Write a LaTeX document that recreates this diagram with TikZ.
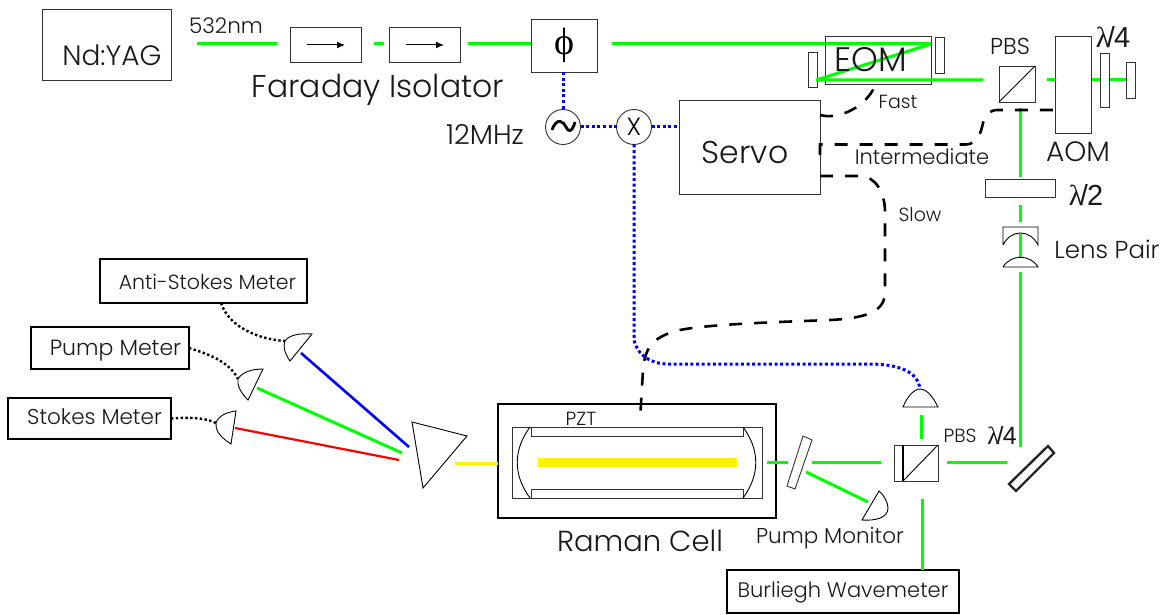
\documentclass[tikz,border=0pt]{standalone}
\usepackage{fontspec}
\setmainfont{Poppins}[UprightFont=* Light]
\newfontfamily\symf{Liberation Serif}
\newfontfamily\numf{Liberation Sans}
\usetikzlibrary{calc,arrows.meta}
\newcommand\fs[1]{\fontsize{#1}{#1}\selectfont}
\newcommand\lamfrac[1]{{\symf λ}\kern-0.11em{\numf /\kern-0.03em#1}}
\tikzset{
  x=1pt,y=-1pt,
  thin box/.style={draw=black!80,line width=0.9pt,inner sep=0pt,outer sep=0pt},
  thick box/.style={draw=black,line width=2.6pt,inner sep=0pt,outer sep=0pt},
  txt/.style={inner sep=0pt,outer sep=0pt,text=black!90},
  gbeam/.style={draw={rgb,255:red,0;green,255;blue,0},line width=3pt,line join=bevel},
  ybeam/.style={draw=yellow,line width=3pt},
  bbeam/.style={draw=blue,line width=2.6pt},
  rbeam/.style={draw=red,line width=2.2pt},
  bluedot/.style={draw=blue,line width=3pt,dash pattern=on 3pt off 2.6pt},
  blackdot/.style={draw=black,line width=2.4pt,dash pattern=on 2.4pt off 2.4pt},
  blackdash/.style={draw=black,line width=2.6pt,dash pattern=on 13pt off 12pt},
  det/.style={draw=black,line width=0.9pt,fill=white},
  thin line/.style={draw=black,line width=0.9pt},
}
\begin{document}
\begin{tikzpicture}
\useasboundingbox (0,0) rectangle (1167,615);
\fill[white] (0,0) rectangle (1167,615);

% --- beams first (behind the shapes)
\coordinate (g1a) at (197,44); \coordinate (g1b) at (277,44);
\coordinate (g2a) at (374,44); \coordinate (g2b) at (384,44);
\coordinate (g3a) at (468,44);
\coordinate (g4a) at (612,44); \coordinate (fold1) at (931,44);
\coordinate (fold2) at (816,80); \coordinate (g4b) at (983,80);
\coordinate (g5a) at (1047,80); \coordinate (g5b) at (1055,80);
\coordinate (g6a) at (1092,80); \coordinate (g6b) at (1127,80);
\draw[gbeam] (g1a) -- (g1b);
\draw[gbeam] (g2a) -- (g2b);
\draw[gbeam] (g4a) -- (fold1);
\draw[gbeam] (g5a) -- (g5b);

% --- top row boxes
\node[thin box,minimum width=129pt,minimum height=71pt] (yag) at (106.5,44.5) {};
\node[txt,font=\fs{28}] (yagt) at (112,55) {Nd:YAG};
\node[txt,font=\fs{21.5}] (nm) at (226,26) {532nm};
\node[thin box,minimum width=71pt,minimum height=35pt] (fi1) at (325.5,44.5) {};
\node[thin box,minimum width=71pt,minimum height=35pt] (fi2) at (424.5,44.5) {};
\coordinate (a1a) at (307,45); \coordinate (a1b) at (345,45);
\coordinate (a2a) at (406,45); \coordinate (a2b) at (444,45);
\draw[line width=1pt,-{Latex[length=8pt,width=7pt]}] (a1a) -- (a1b);
\draw[line width=1pt,-{Latex[length=8pt,width=7pt]}] (a2a) -- (a2b);
\node[txt,font=\fs{31.5}] (fit) at (378,90) {Faraday Isolator};
\node[thin box,minimum width=66pt,minimum height=53pt,font=\fs{38}\symf] (phi) at (564,45.5) {ϕ};
\draw[gbeam] (g3a) -- (phi.west |- g3a);

% --- EOM
\node[thin box,minimum width=106pt,minimum height=48pt] (eom) at (878,60) {};
\node[thin box,fill=white,minimum width=9pt,minimum height=36pt] (eomr) at (939.5,55) {};
\node[thin box,minimum width=9pt,minimum height=35pt] (eoml) at (812.5,69.5) {};
\draw[gbeam] (fold1) -- (fold2) -- (g4b);
\node[txt,font=\fs{34}] (eomt) at (871,60) {EOM};

% --- PBS AOM
\node[thin box,minimum width=36pt,minimum height=36pt] (pbs1) at (1017,84) {};
\draw[thin line] (pbs1.south west) -- (pbs1.north east);
\node[txt,font=\fs{23}] (pbs1t) at (1010,46) {PBS};
\node[thin box,minimum width=36pt,minimum height=97pt] (aom) at (1073,84.5) {};
\node[txt,font=\fs{28}] (aomt) at (1078,152) {AOM};
\draw[gbeam] (g6a) -- (g6b);
\node[thin box,fill=white,minimum width=9pt,minimum height=54pt] (qw1) at (1104.5,80) {};
\node[thin box,fill=white,minimum width=9pt,minimum height=36pt] (qw2) at (1130.5,80) {};
\node[txt,font=\fs{29}] (qw1t) at (1113,37) {\lamfrac{4}};

% --- vertical green line to the right
\coordinate (v1a) at (1020,108); \coordinate (v1b) at (1020,177);
\coordinate (v2a) at (1020,205); \coordinate (v2b) at (1020,222);
\coordinate (v3a) at (1020,234); \coordinate (v3b) at (1020,257);
\coordinate (v4a) at (1020,272); \coordinate (v4b) at (1020,447);
\draw[gbeam] (v1a) -- (v1b);
\draw[gbeam] (v2a) -- (v2b);
\draw[gbeam] (v3a) -- (v3b);
\draw[gbeam] (v4a) -- (v4b);
\node[thin box,minimum width=70pt,minimum height=18pt] (hw) at (1020,188) {};
\node[txt,font=\fs{29}] (hwt) at (1086,195) {\lamfrac{2}};
% lens pair
\draw[thin line] (1003,245) -- (1003,227) -- (1038,227) -- (1038,245)
   .. controls (1030,229) and (1011,229) .. (1003,245);
\draw[thin line] (1003,267) -- (1038,267)
   .. controls (1030,254) and (1011,254) .. (1003,267);
\node[txt,font=\fs{24.5}] (lenst) at (1107,249) {Lens Pair};

% --- Servo and RF
\node[thin box,minimum width=141pt,minimum height=94pt] (servo) at (749.5,147) {};
\node[txt,font=\fs{31.5}] (servot) at (745,152) {Servo};
\node[thin box,circle,minimum size=35pt] (osc) at (563,127) {};
\draw[line width=2.8pt,black] (552,130) .. controls (557,116) and (564,122) .. (566,127) .. controls (568,132) and (572,133) .. (575,122);
\node[thin box,circle,minimum size=35pt,font=\fs{25}] (mix) at (634,127) {X};
\node[txt,font=\fs{27.5}] (mhz) at (485,134) {12MHz};
\draw[bluedot] (phi.south -| osc.north) -- (osc.north);
\draw[bluedot] (osc.east) -- (mix.west);
\draw[bluedot] (mix.east) -- (mix.east -| servo.west);

% --- labels on servo outputs
\node[txt,font=\fs{19}] (fastt) at (898,102) {Fast};
\node[txt,font=\fs{21}] (intt) at (922,157) {Intermediate};
\node[txt,font=\fs{19}] (slowt) at (920,215) {Slow};

% --- servo outputs
\draw[blackdash] ($(servo.north east)+(0,15)$) .. controls (838,120) and (865,108) .. (875,86);
\draw[blackdash] (820,155) -- (820,144.5) -- (966,144.5) .. controls (978,144) and (981,132) .. (983,123) .. controls (985,114) and (990,110) .. (998,110) -- (aom.west |- 0,110);
\draw[blackdash] ($(servo.north east)+(0,76)$) -- (860,176) .. controls (875,176) and (885,192) .. (885,212) -- (885,292)
   .. controls (885,310) and (870,318) .. (830,320) .. controls (780,322) and (710,324) .. (680,330)
   .. controls (650,337) and (645,350) .. (643,370) -- (640,420);

% --- Raman cell
\node[thick box,minimum width=278pt,minimum height=114pt] (cell) at (637,461) {};
\node[thin box,minimum width=250pt,minimum height=71pt] (celli) at (637,462.5) {};
\node[thin box,minimum width=212pt,minimum height=9pt] (pzt1) at (637,431.5) {};
\node[thin box,minimum width=212pt,minimum height=9pt] (pzt2) at (637,493.5) {};
\draw[thin line] (530,427) .. controls (513,450) and (513,475) .. (530,498);
\draw[thin line] (743,427) .. controls (760,450) and (760,475) .. (743,498);
\fill[yellow] (538,458) rectangle (737,467);
\node[txt,font=\fs{19}] (pztt) at (581,419) {PZT};
\node[txt,font=\fs{29}] (cellt) at (640,541) {Raman Cell};
\coordinate (ya) at (455,463);
\draw[ybeam] (ya) -- (ya -| cell.west);

% --- right lower optics
\node[thin box,minimum width=44pt,minimum height=36pt] (pbs2) at (916,463) {};
\draw[line width=1.4pt,black] (903,445) -- (903,481);
\draw[thin line] (903,481) -- (pbs2.north east);
\node[txt,font=\fs{19}] (pbs2t) at (960,436) {PBS};
\node[txt,font=\fs{25}] (qw3t) at (1002,436) {\lamfrac{4}};
\coordinate (h1a) at (947,462); \coordinate (h1b) at (1007,462);
\coordinate (h2a) at (812,462); \coordinate (h2b) at (881,462);
\coordinate (h3a) at (767,462); \coordinate (h3b) at (788,462);
\coordinate (u1a) at (921,415); \coordinate (u1b) at (921,439);
\coordinate (d1a) at (922,499);
\coordinate (m1a) at (806,472); \coordinate (m1b) at (868,502);
\draw[gbeam] (h1a) -- (h1b);
\draw[gbeam] (h2a) -- (h2b);
\draw[gbeam] (h3a) -- (h3b);
\draw[gbeam] (u1a) -- (u1b);
\draw[gbeam] (m1a) -- (m1b);
\node[thick box,minimum width=232pt,minimum height=43pt] (wave) at (843,591.5) {};
\node[txt,font=\fs{21}] (wavet) at (843,592) {Burliegh Wavemeter};
\draw[gbeam] (d1a) -- (d1a |- wave.north);
% mirrors
\draw[line width=0.9pt,black!80] (803,436) -- (812,440) -- (795,489) -- (787,486) -- cycle;
\draw[line width=2.4pt,black!85] (1048,446) -- (1054,453) -- (1016,491) -- (1009,484) -- cycle;
% detectors
\draw[det] (903,407) -- (938,407) .. controls (932,395) and (926,389) .. (920,389) .. controls (914,389) and (907,397) .. (903,407) -- cycle;
\draw[det] (879,491) -- (862,520) .. controls (875,521) and (888,518) .. (888,508) .. controls (888,503) and (884,495) .. (879,491) -- cycle;
\node[txt,font=\fs{21.5}] (pumpt) at (830,538) {Pump Monitor};
\coordinate (dettop) at (920,389);
\coordinate (mixd) at (634,340);
\draw[bluedot] (mix.south) -- (mixd) .. controls (636,352) and (648,364) .. (668,364)
   -- (868,364) .. controls (900,364) and (918,372) .. (dettop);

% --- left: meters and prism
\draw[thin line] (412,422) -- (467,436) -- (423,488) -- cycle;
\coordinate (ba) at (301,353); \coordinate (bb) at (409,447);
\coordinate (ga) at (257,388); \coordinate (gb) at (402,453);
\coordinate (ra) at (235,428); \coordinate (rb) at (399,460);
\draw[bbeam] (ba) -- (bb);
\draw[gbeam] (ga) -- (gb);
\draw[rbeam] (ra) -- (rb);
\draw[det] (312,334) -- (290,361) .. controls (284,352) and (283,346) .. (285,341) .. controls (289,335) and (300,333) .. (312,334) -- cycle;
\draw[det] (263,369) -- (248,400) .. controls (240,392) and (237,385) .. (238,379) .. controls (242,372) and (252,369) .. (263,369) -- cycle;
\draw[det] (236,411) -- (231,444) .. controls (220,437) and (215,430) .. (216,423) .. controls (218,416) and (227,412) .. (236,411) -- cycle;
\node[thick box,minimum width=207pt,minimum height=44pt] (anti) at (203.5,281) {};
\node[txt,font=\fs{20.5}] (antit) at (207.5,282) {Anti-Stokes Meter};
\node[thick box,minimum width=158pt,minimum height=42pt] (pump) at (110,348) {};
\node[txt,font=\fs{22}] (pumpmt) at (115.5,350.5) {Pump Meter};
\node[thick box,minimum width=163pt,minimum height=41pt] (stokes) at (89.5,418.5) {};
\node[txt,font=\fs{21.5}] (stokest) at (94.5,417) {Stokes Meter};
\coordinate (da) at (285,341); \coordinate (dp) at (238,379); \coordinate (ds) at (216,423);
\draw[blackdot] ([xshift=17.5pt]anti.south) .. controls (228,325) and (255,339) .. (da);
\draw[blackdot] (pump.east) .. controls (212,355) and (230,363) .. (dp);
\draw[blackdot] (stokes.east) .. controls (190,417) and (207,418) .. (ds);
\end{tikzpicture}
\end{document}
